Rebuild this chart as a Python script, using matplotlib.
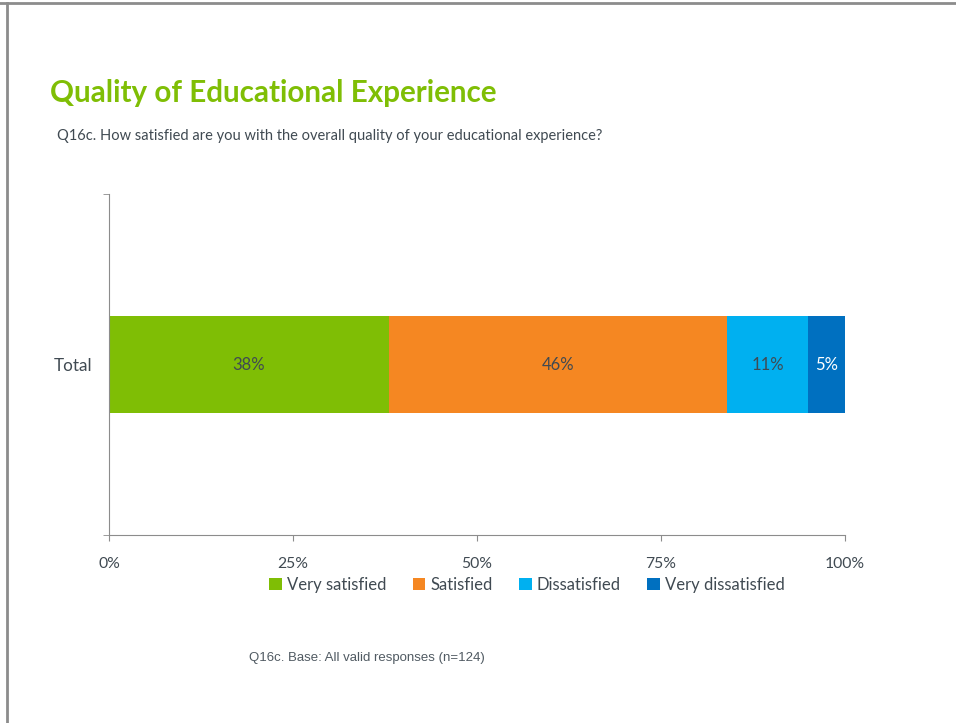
import matplotlib
matplotlib.use("Agg")
import matplotlib.pyplot as plt
from matplotlib.lines import Line2D
from matplotlib.patches import Patch

categories = ["Total"]
series_names = ["Very satisfied", "Satisfied", "Dissatisfied", "Very dissatisfied"]
values = [38, 46, 11, 5]
labels = ["38%", "46%", "11%", "5%"]
colors = ["#7FBE05", "#F58722", "#00B0F0", "#0070C0"]
label_colors = ["#404A52", "#404A52", "#404A52", "#FFFFFF"]
xticks = [0, 25, 50, 75, 100]
xticklabels = ["0%", "25%", "50%", "75%", "100%"]

fig = plt.figure(figsize=(9.56, 7.23), dpi=100)
W, H = 956, 723

# frame lines (top and left)
fig.add_artist(Line2D([0, 1], [1 - 3/H, 1 - 3/H], color="#8C8C8C", lw=2, transform=fig.transFigure))
fig.add_artist(Line2D([7/W, 7/W], [0, 1 - 3/H], color="#8C8C8C", lw=2, transform=fig.transFigure))

fig.text(50/W, 1 - 93/H, "Quality of Educational Experience", fontsize=21.3, fontweight="bold",
         color="#7FBE05", family="Lato", va="center", ha="left")
fig.text(57/W, 1 - 136/H, "Q16c. How satisfied are you with the overall quality of your educational experience?",
         fontsize=10.5, color="#404A52", family="Lato", va="center", ha="left")
fig.text(249/W, 1 - 658/H, "Q16c. Base: All valid responses (n=124)", fontsize=9.5,
         color="#505A62", family="Liberation Sans", va="center", ha="left")

ax = fig.add_axes([109/W, 1 - 535/H, (845 - 109)/W, (535 - 194)/H])
left = 0
for v, lab, c, lc in zip(values, labels, colors, label_colors):
    ax.barh(0, v, left=left, height=0.57, color=c)
    ax.text(left + v / 2, 0, lab, ha="center", va="center", color=lc, fontsize=12, family="Lato")
    left += v

ax.set_xlim(0, 100)
ax.set_ylim(-1, 1)
for s in ["top", "right"]:
    ax.spines[s].set_visible(False)
ax.spines["left"].set_color("#8C8C8C")
ax.spines["bottom"].set_color("#8C8C8C")
ax.set_xticks(xticks)
ax.set_xticklabels(xticklabels, fontsize=11.3, color="#404A52", family="Lato")
ax.tick_params(axis="x", length=4, color="#8C8C8C", pad=12)
ax.set_yticks([0])
ax.set_yticklabels(categories, fontsize=12.3, color="#404A52", family="Lato")
ax.tick_params(axis="y", length=0, pad=12)
ax.set_yticks([-1, 1], minor=True)
ax.tick_params(axis="y", which="minor", length=4.5, color="#8C8C8C")

handles = [Patch(facecolor=c, edgecolor="none") for c in colors]
fig.legend(handles, series_names, loc="center", bbox_to_anchor=(527/W, 1 - 585/H), ncol=4,
           frameon=False, handlelength=0.75, handleheight=0.75, handletextpad=0.3, columnspacing=1.6,
           prop={"family": "Lato", "size": 12}, labelcolor="#404A52")

fig.savefig("out.png", dpi=100)
